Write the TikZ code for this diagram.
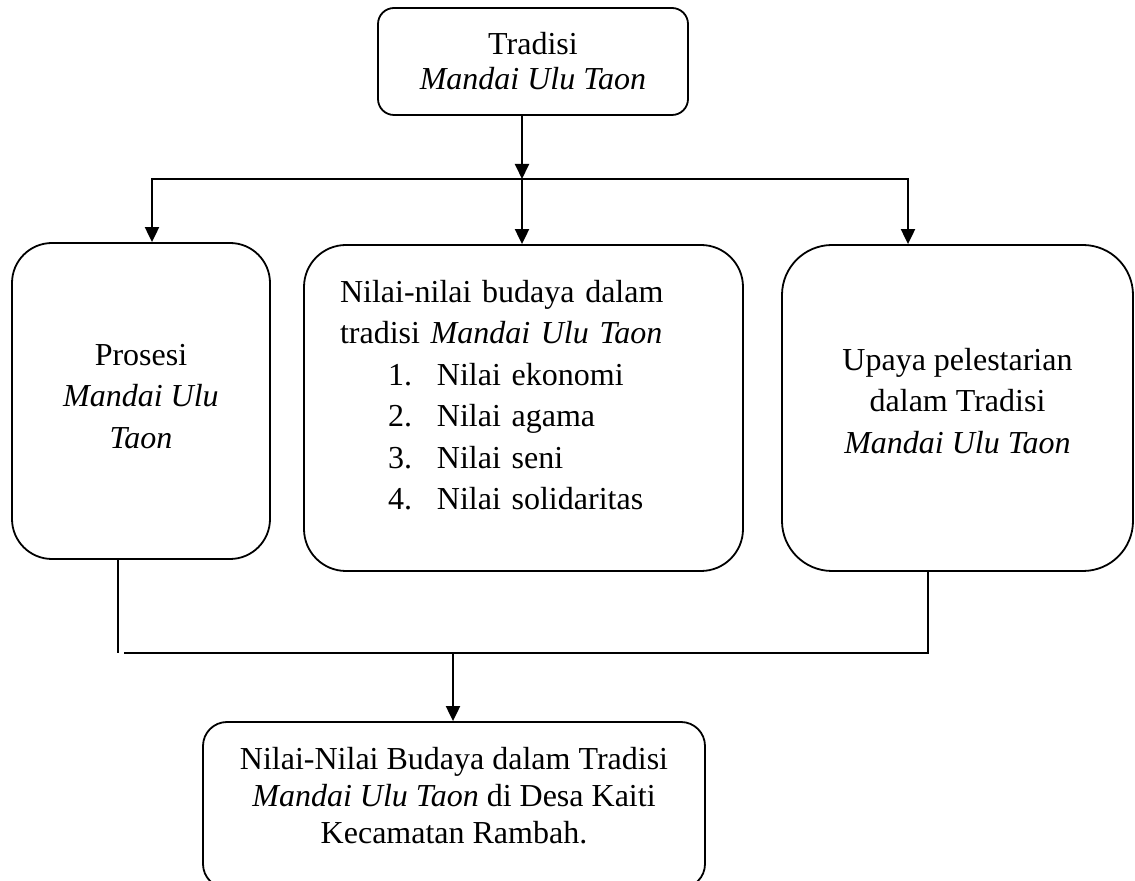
\documentclass[tikz,border=0pt]{standalone}
\usepackage{fontspec}
\setmainfont{Liberation Serif}
\usetikzlibrary{arrows.meta, positioning}

\tikzset{
  kotak/.style={draw, line width=0.9pt, align=center, inner sep=0pt,
    font=\fontsize{16}{20.75}\selectfont},
  panah/.style={line width=1pt, -{Triangle[length=7.5pt, width=7pt]}},
  garis/.style={line width=1pt}
}

\begin{document}
\begin{tikzpicture}[x=0.5pt, y=-0.5pt]
\useasboundingbox (0,0) rectangle (1135,881);
% Kotak atas
\node[kotak, rounded corners=8pt, minimum width=155pt, minimum height=53.5pt,
  font=\fontsize{16}{17.5}\selectfont] (tradisi) at (533,61.5)
  {Tradisi\\ \textit{Mandai Ulu Taon}};
% Tiga kotak tengah
\node[kotak, rounded corners=20pt, minimum width=129pt, minimum height=158pt]
  (prosesi) at (141,401) {Prosesi\\ \textit{Mandai Ulu}\\ \textit{Taon}\\[-15.75pt]\mbox{}};
\node[kotak, rounded corners=21pt, minimum width=219.5pt, minimum height=163pt,
  align=left, text width=183.5pt] (nilai) at (523.5,408)
  {Nilai-nilai budaya dalam\\
   tradisi \textit{Mandai Ulu Taon}\\
   \hspace*{24pt}\makebox[24.5pt][l]{1.}Nilai ekonomi\\
   \hspace*{24pt}\makebox[24.5pt][l]{2.}Nilai agama\\
   \hspace*{24pt}\makebox[24.5pt][l]{3.}Nilai seni\\
   \hspace*{24pt}\makebox[24.5pt][l]{4.}Nilai solidaritas\\[-7.75pt]\mbox{}};
\node[kotak, rounded corners=25pt, minimum width=175.5pt, minimum height=163pt]
  (upaya) at (957.5,408)
  {Upaya pelestarian\\ dalam Tradisi\\ \textit{Mandai Ulu Taon}\\[-13.25pt]\mbox{}};
% Kotak bawah
\node[kotak, rounded corners=12pt, minimum width=251pt, minimum height=83pt,
  font=\fontsize{16}{18.5}\selectfont] (hasil) at (454,805)
  {Nilai-Nilai Budaya dalam Tradisi\\
   \textit{Mandai Ulu Taon} di Desa Kaiti\\
   Kecamatan Rambah.\\[-8.5pt]\mbox{}};

% Garis cabang
\coordinate (cabang) at (522,179);
\coordinate (kiri) at (152,179);
\coordinate (kanan) at (908,179);
\draw[panah] (tradisi.south -| cabang) -- (cabang);
\draw[panah] (cabang) -| (kiri |- prosesi.north);
\draw[panah] (cabang) -| (kanan |- upaya.north);
\draw[panah] (cabang) -- (cabang |- nilai.north);

% Garis gabung
\coordinate (bawahkiri) at (118,653);
\coordinate (bawahkanan) at (928,653);
\coordinate (gabung) at (453,653);
\draw[garis] (bawahkiri |- prosesi.south) -- (bawahkiri);
\draw[garis] ([xshift=3pt]bawahkiri) -- (bawahkanan) -- (bawahkanan |- upaya.south);
\draw[panah] (gabung) -- (gabung |- hasil.north);
\end{tikzpicture}
\end{document}
